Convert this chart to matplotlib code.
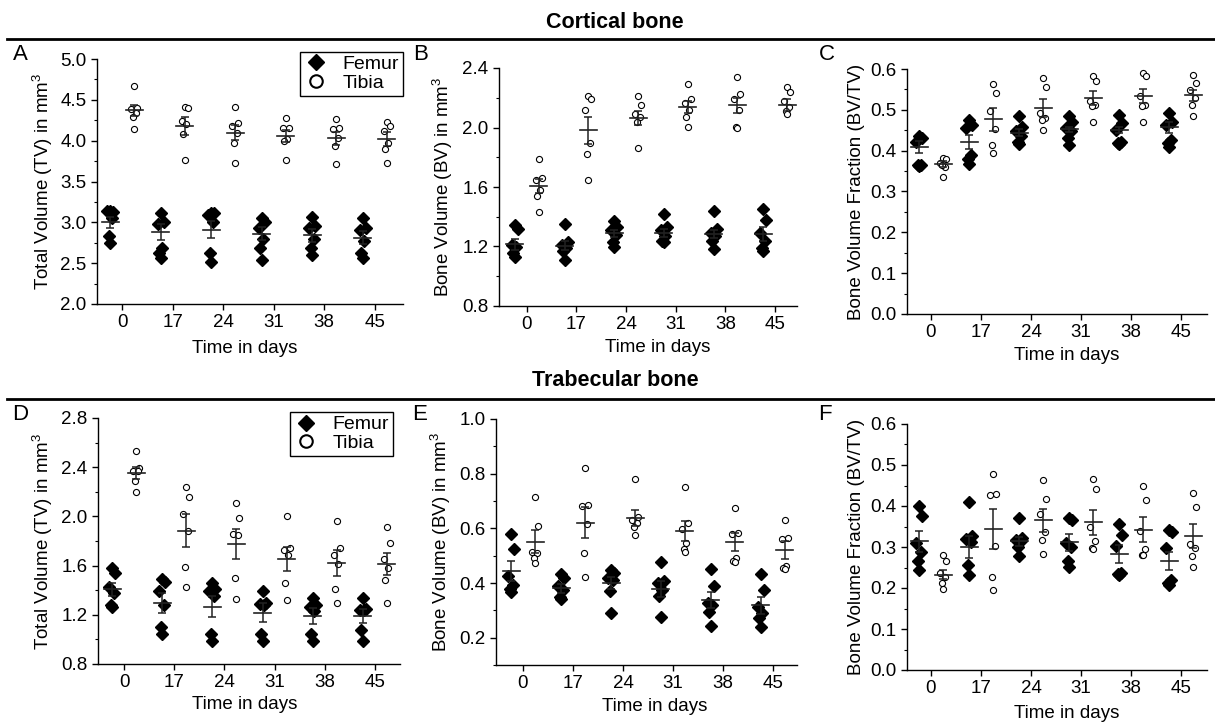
import matplotlib
matplotlib.use('Agg')
import matplotlib.pyplot as plt
from matplotlib.lines import Line2D
from matplotlib.ticker import MultipleLocator, FormatStrFormatter

plt.rcParams['font.family'] = ['Liberation Sans', 'DejaVu Sans']
plt.rcParams['mathtext.fontset'] = 'custom'
plt.rcParams['mathtext.rm'] = 'Liberation Sans'
plt.rcParams['mathtext.it'] = 'Liberation Sans:italic'

# ---------------- data ----------------
days = ["0", "17", "24", "31", "38", "45"]

# Cortical bone - Total volume (A)
A_femur = [[3.14, 3.13, 3.14, 3.05, 2.83, 2.75],
           [3.11, 3.01, 2.98, 2.69, 2.62, 2.56],
           [3.12, 3.11, 3.09, 3.00, 2.63, 2.52],
           [3.05, 3.01, 2.93, 2.80, 2.69, 2.54],
           [3.07, 2.96, 2.93, 2.79, 2.69, 2.60],
           [3.05, 2.93, 2.91, 2.77, 2.62, 2.56]]
A_femur_mean = [3.00, 2.88, 2.91, 2.86, 2.84, 2.81]
A_femur_sem = [0.07, 0.10, 0.105, 0.08, 0.08, 0.08]
A_tibia = [[4.67, 4.40, 4.39, 4.34, 4.29, 4.14],
           [4.41, 4.40, 4.24, 4.20, 4.08, 3.76],
           [4.41, 4.22, 4.18, 4.09, 3.97, 3.73],
           [4.28, 4.16, 4.15, 4.02, 4.00, 3.76],
           [4.26, 4.16, 4.14, 4.03, 3.93, 3.71],
           [4.23, 4.18, 4.12, 3.97, 3.90, 3.73]]
A_tibia_mean = [4.37, 4.18, 4.10, 4.06, 4.03, 4.02]
A_tibia_sem = [0.07, 0.105, 0.095, 0.075, 0.08, 0.085]

# Cortical bone - Bone volume (B)
B_femur = [[1.345, 1.32, 1.21, 1.20, 1.155, 1.13],
           [1.35, 1.23, 1.21, 1.19, 1.17, 1.11],
           [1.37, 1.33, 1.31, 1.28, 1.23, 1.20],
           [1.42, 1.33, 1.31, 1.27, 1.24, 1.23],
           [1.44, 1.32, 1.29, 1.27, 1.24, 1.18],
           [1.45, 1.38, 1.29, 1.24, 1.19, 1.17]]
B_femur_mean = [1.215, 1.206, 1.289, 1.29, 1.282, 1.282]
B_femur_sem = [0.037, 0.03, 0.022, 0.027, 0.028, 0.047]
B_tibia = [[1.79, 1.66, 1.65, 1.58, 1.54, 1.435],
           [2.215, 2.19, 2.12, 1.895, 1.82, 1.645],
           [2.21, 2.15, 2.09, 2.07, 2.04, 1.86],
           [2.29, 2.19, 2.165, 2.12, 2.07, 2.005],
           [2.34, 2.225, 2.19, 2.12, 2.005, 2.0],
           [2.27, 2.24, 2.18, 2.14, 2.11, 2.09]]
B_tibia_mean = [1.608, 1.98, 2.063, 2.137, 2.15, 2.153]
B_tibia_sem = [0.045, 0.09, 0.045, 0.04, 0.05, 0.04]

# Cortical bone - BV/TV (C)
C_femur = [[0.435, 0.43, 0.422, 0.365, 0.364, 0.363],
           [0.474, 0.463, 0.455, 0.39, 0.379, 0.368],
           [0.486, 0.459, 0.447, 0.435, 0.422, 0.417],
           [0.486, 0.469, 0.455, 0.447, 0.43, 0.414],
           [0.487, 0.467, 0.451, 0.422, 0.418, 0.417],
           [0.492, 0.471, 0.463, 0.426, 0.418, 0.41]]
C_femur_mean = [0.408, 0.421, 0.444, 0.452, 0.451, 0.457]
C_femur_sem = [0.0145, 0.018, 0.008, 0.007, 0.008, 0.014]
C_tibia = [[0.383, 0.379, 0.369, 0.359, 0.365, 0.335],
           [0.563, 0.54, 0.496, 0.452, 0.413, 0.394],
           [0.577, 0.555, 0.492, 0.479, 0.474, 0.451],
           [0.583, 0.571, 0.522, 0.512, 0.51, 0.469],
           [0.589, 0.583, 0.535, 0.512, 0.51, 0.471],
           [0.585, 0.565, 0.549, 0.528, 0.512, 0.485]]
C_tibia_mean = [0.368, 0.477, 0.504, 0.528, 0.534, 0.536]
C_tibia_sem = [0.007, 0.028, 0.022, 0.017, 0.018, 0.0135]

# Trabecular bone - Total volume (D)
D_femur = [[1.58, 1.54, 1.43, 1.375, 1.28, 1.26],
           [1.49, 1.47, 1.39, 1.28, 1.10, 1.04],
           [1.46, 1.41, 1.39, 1.35, 1.04, 0.99],
           [1.39, 1.30, 1.29, 1.28, 1.04, 0.99],
           [1.34, 1.28, 1.26, 1.23, 1.04, 0.99],
           [1.34, 1.25, 1.24, 1.24, 1.08, 0.99]]
D_femur_mean = [1.408, 1.294, 1.267, 1.218, 1.19, 1.19]
D_femur_sem = [0.054, 0.082, 0.085, 0.077, 0.065, 0.058]
D_tibia = [[2.53, 2.39, 2.37, 2.37, 2.29, 2.20],
           [2.24, 2.16, 2.02, 1.885, 1.585, 1.425],
           [2.11, 1.99, 1.86, 1.85, 1.50, 1.33],
           [2.00, 1.74, 1.73, 1.69, 1.46, 1.32],
           [1.965, 1.74, 1.69, 1.615, 1.41, 1.295],
           [1.91, 1.78, 1.65, 1.58, 1.48, 1.30]]
D_tibia_mean = [2.352, 1.885, 1.777, 1.655, 1.62, 1.614]
D_tibia_sem = [0.05, 0.133, 0.122, 0.098, 0.105, 0.092]

# Trabecular bone - Bone volume (E)
E_femur = [[0.578, 0.523, 0.425, 0.394, 0.378, 0.366],
           [0.433, 0.418, 0.388, 0.375, 0.35, 0.341],
           [0.447, 0.437, 0.418, 0.41, 0.369, 0.29],
           [0.476, 0.409, 0.40, 0.375, 0.351, 0.275],
           [0.453, 0.388, 0.326, 0.32, 0.293, 0.243],
           [0.434, 0.375, 0.312, 0.29, 0.271, 0.24]]
E_femur_mean = [0.443, 0.38, 0.40, 0.378, 0.339, 0.318]
E_femur_sem = [0.036, 0.015, 0.022, 0.029, 0.029, 0.03]
E_tibia = [[0.713, 0.609, 0.513, 0.51, 0.492, 0.474],
           [0.82, 0.686, 0.682, 0.617, 0.51, 0.422],
           [0.78, 0.643, 0.63, 0.621, 0.605, 0.574],
           [0.75, 0.618, 0.596, 0.547, 0.523, 0.513],
           [0.674, 0.584, 0.58, 0.49, 0.48, 0.477],
           [0.629, 0.566, 0.56, 0.461, 0.456, 0.452]]
E_tibia_mean = [0.551, 0.621, 0.639, 0.59, 0.55, 0.52]
E_tibia_sem = [0.042, 0.058, 0.029, 0.037, 0.033, 0.033]

# Trabecular bone - BV/TV (F)
F_femur = [[0.399, 0.376, 0.309, 0.289, 0.265, 0.243],
           [0.41, 0.327, 0.319, 0.311, 0.257, 0.232],
           [0.371, 0.322, 0.318, 0.314, 0.301, 0.279],
           [0.371, 0.366, 0.309, 0.301, 0.265, 0.251],
           [0.356, 0.33, 0.303, 0.236, 0.234, 0.232],
           [0.342, 0.336, 0.297, 0.22, 0.213, 0.208]]
F_femur_mean = [0.314, 0.299, 0.314, 0.311, 0.283, 0.266]
F_femur_sem = [0.026, 0.027, 0.011, 0.021, 0.022, 0.023]
F_tibia = [[0.281, 0.265, 0.236, 0.228, 0.213, 0.197],
           [0.478, 0.43, 0.428, 0.303, 0.226, 0.194],
           [0.463, 0.418, 0.381, 0.336, 0.318, 0.283],
           [0.467, 0.441, 0.35, 0.314, 0.297, 0.295],
           [0.448, 0.414, 0.338, 0.295, 0.281, 0.28],
           [0.432, 0.397, 0.308, 0.297, 0.277, 0.251]]
F_tibia_mean = [0.232, 0.344, 0.365, 0.36, 0.342, 0.327]
F_tibia_sem = [0.011, 0.049, 0.028, 0.031, 0.03, 0.03]

ylab_tv = "Total Volume (TV) in mm$^3$"
ylab_bv = "Bone Volume (BV) in mm$^3$"
ylab_fr = "Bone Volume Fraction (BV/TV)"

# ---------------- layout ----------------
W, H = 1215, 727
fig = plt.figure(figsize=(W / 100, H / 100), dpi=100)

panels = [
    dict(letter="A", box=(97, 403, 59, 304), xlim=(-0.5, 5.56), ylim=(2.0, 5.0), major=0.5,
         femur=(A_femur, A_femur_mean, A_femur_sem), tibia=(A_tibia, A_tibia_mean, A_tibia_sem),
         ylabel=ylab_tv, ylc=-0.137, xlc=(0.484, -0.145), legend=(1.0, 1.03), lp=(20, 55)),
    dict(letter="B", box=(499, 797, 68, 306), xlim=(-0.56, 5.44), ylim=(0.8, 2.4), major=0.4,
         femur=(B_femur, B_femur_mean, B_femur_sem), tibia=(B_tibia, B_tibia_mean, B_tibia_sem),
         ylabel=ylab_bv, ylc=-0.148, xlc=(0.533, -0.137), legend=None, lp=(421, 55)),
    dict(letter="C", box=(907, 1207, 69, 314), xlim=(-0.48, 5.52), ylim=(0.0, 0.6), major=0.1,
         femur=(C_femur, C_femur_mean, C_femur_sem), tibia=(C_tibia, C_tibia_mean, C_tibia_sem),
         ylabel=ylab_fr, ylc=-0.14, xlc=(0.533, -0.133), legend=None, lp=(827, 55)),
    dict(letter="D", box=(98, 400, 418, 664), xlim=(-0.52, 5.5), ylim=(0.8, 2.8), major=0.4,
         femur=(D_femur, D_femur_mean, D_femur_sem), tibia=(D_tibia, D_tibia_mean, D_tibia_sem),
         ylabel=ylab_tv, ylc=-0.142, xlc=(0.487, -0.132), legend=(0.977, 1.025), lp=(20, 415)),
    dict(letter="E", box=(496, 797, 419, 665), xlim=(-0.54, 5.48), ylim=(0.1, 1.0), major=0.2,
         femur=(E_femur, E_femur_mean, E_femur_sem), tibia=(E_tibia, E_tibia_mean, E_tibia_sem),
         ylabel=ylab_bv, ylc=-0.143, xlc=(0.528, -0.136), legend=None, lp=(420, 415)),
    dict(letter="F", box=(907, 1207, 424, 670), xlim=(-0.48, 5.52), ylim=(0.0, 0.6), major=0.1,
         femur=(F_femur, F_femur_mean, F_femur_sem), tibia=(F_tibia, F_tibia_mean, F_tibia_sem),
         ylabel=ylab_fr, ylc=-0.14, xlc=(0.533, -0.144), legend=None, lp=(825, 415)),
]

jit = [0.0, 0.06, -0.06, 0.03, -0.03, 0.0]
OFF = 0.24
FS = 13.5

def draw_group(ax, center, pts, mean, sem, kind):
    xs, ys = [], []
    for j, v in enumerate(pts):
        xs.append(center + jit[j % len(jit)])
        ys.append(v)
    if kind == "femur":
        ax.plot(xs, ys, ls='none', marker='D', ms=5.8, color='k', zorder=3)
    else:
        ax.plot(xs, ys, ls='none', marker='o', ms=4.4, mfc='white', mec='k', mew=0.8, zorder=3)
    ax.plot([center - 0.17, center + 0.17], [mean, mean], color='#222222', lw=1.2, zorder=4)
    ax.errorbar([center], [mean], yerr=[sem], fmt='none', ecolor='#222222', elinewidth=1.1,
                capsize=3.2, capthick=1.1, zorder=4)

for p in panels:
    l, r, t, b = p["box"]
    ax = fig.add_axes([l / W, 1 - b / H, (r - l) / W, (b - t) / H])
    for i in range(len(days)):
        fp, fm, fs = p["femur"]
        tp, tm, ts = p["tibia"]
        draw_group(ax, i - OFF, fp[i], fm[i], fs[i], "femur")
        draw_group(ax, i + OFF, tp[i], tm[i], ts[i], "tibia")
    ax.set_xlim(*p["xlim"])
    ax.set_ylim(*p["ylim"])
    ax.set_xticks(range(len(days)))
    ax.set_xticklabels(days)
    ax.yaxis.set_major_locator(MultipleLocator(p["major"]))
    ax.yaxis.set_minor_locator(MultipleLocator(p["major"] / 2))
    ax.yaxis.set_major_formatter(FormatStrFormatter('%.1f'))
    for s in ("top", "right"):
        ax.spines[s].set_visible(False)
    for s in ("left", "bottom"):
        ax.spines[s].set_linewidth(1.0)
    ax.tick_params(axis='both', which='major', direction='out', length=4.5, width=1.0,
                   labelsize=FS, pad=3)
    ax.tick_params(axis='y', which='minor', direction='out', length=2.5, width=0.8)
    ax.set_ylabel(p["ylabel"], fontsize=FS)
    ax.yaxis.set_label_coords(p["ylc"], 0.5)
    ax.set_xlabel("Time in days", fontsize=FS)
    ax.xaxis.set_label_coords(*p["xlc"])
    if p["legend"] is not None:
        handles = [Line2D([], [], ls='none', marker='D', ms=8.5, color='k', label='Femur'),
                   Line2D([], [], ls='none', marker='o', ms=9, mfc='white', mec='k', mew=1.5,
                          label='Tibia')]
        leg = ax.legend(handles=handles, loc='upper right', bbox_to_anchor=p["legend"],
                        fontsize=14, frameon=True, fancybox=False, edgecolor='k',
                        framealpha=1, borderpad=0.2, labelspacing=0.05, handletextpad=0.7,
                        handlelength=1.3, borderaxespad=0.0)
        leg.get_frame().set_linewidth(1.0)
    fig.text(p["lp"][0] / W, 1 - p["lp"][1] / H, p["letter"], fontsize=16,
             ha='center', va='center')

# section headings with rules
for title, ty, ly in (("Cortical bone", 22, 39), ("Trabecular bone", 380, 399)):
    fig.text(615 / W, 1 - ty / H, title, fontsize=15.5, fontweight='bold',
             ha='center', va='center')
    fig.add_artist(Line2D([7 / W, 1.0], [1 - ly / H, 1 - ly / H], color='k', lw=2.0))

fig.savefig("out.png", dpi=100)
